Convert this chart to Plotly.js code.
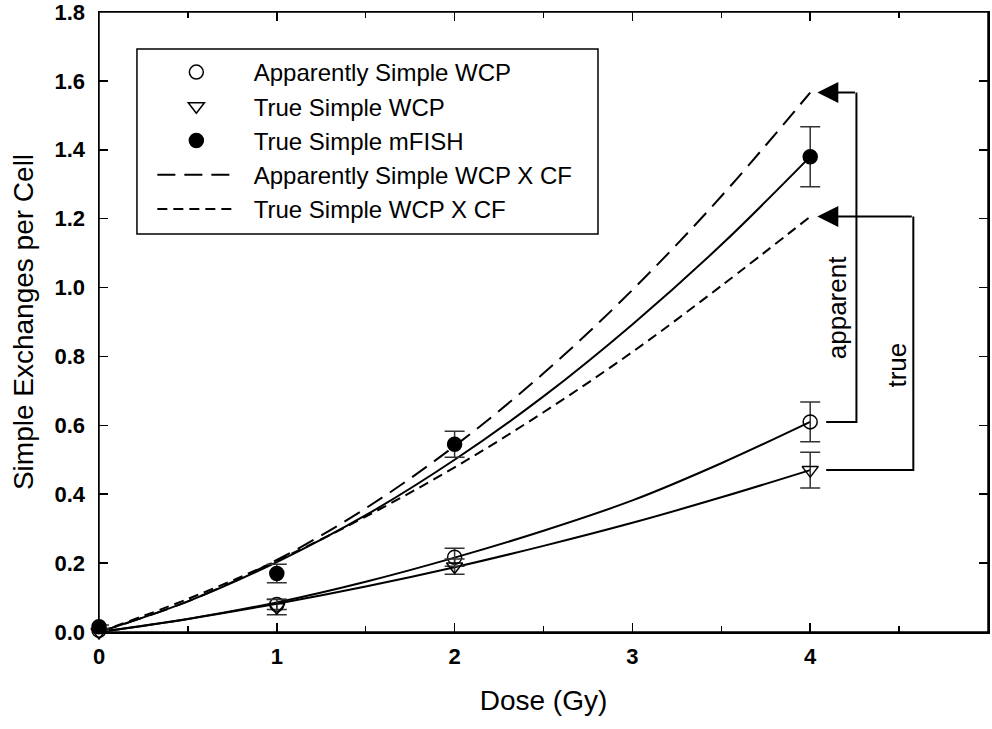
<!DOCTYPE html>
<html>
<head>
<meta charset="utf-8">
<script src="https://cdn.plot.ly/plotly-3.0.1.min.js"></script>
<style>
  body { margin: 0; background: #fff; }
  #dose_plot { width: 992px; height: 729px; }
</style>
</head>
<body>
<div id="dose_plot"></div>
<script>
/* measured points (Dose in Gy) */
var doses = [0, 1, 2, 4];
var apparentWcp = [0.005, 0.08, 0.217, 0.61];
var apparentWcpErr = [0.005, 0.015, 0.026, 0.058];
var trueWcp = [0.0, 0.072, 0.19, 0.47];
var trueWcpErr = [0.005, 0.022, 0.022, 0.052];
var trueMfish = [0.015, 0.17, 0.545, 1.38];
var trueMfishErr = [0.005, 0.027, 0.038, 0.087];

/* fitted curves */
var fitDoses = [0, 0.5, 1, 1.5, 2, 2.5, 3, 3.5, 4];
var fitApparentWcp = [0, 0.038, 0.086, 0.146, 0.216, 0.294, 0.382, 0.49, 0.61];
var fitTrueWcp = [0, 0.038, 0.082, 0.132, 0.188, 0.25, 0.317, 0.391, 0.47];
var fitTrueMfish = [0, 0.089, 0.203, 0.339, 0.50, 0.684, 0.893, 1.124, 1.38];
var cfApparentWcp = [0, 0.089, 0.209, 0.359, 0.54, 0.751, 0.993, 1.265, 1.566];
var cfTrueWcp = [0, 0.096, 0.207, 0.335, 0.478, 0.638, 0.813, 1.005, 1.206];

/* tick labels */
var xTicks = [0, 1, 2, 3, 4];
var xMinorTicks = [0.5, 1.5, 2.5, 3.5, 4.5];
var yTicks = [0, 0.2, 0.4, 0.6, 0.8, 1.0, 1.2, 1.4, 1.6, 1.8];

var legendNames = ['Apparently Simple WCP', 'True Simple WCP', 'True Simple mFISH',
                   'Apparently Simple WCP X CF', 'True Simple WCP X CF'];

var FONT = 'Liberation Sans, Arial, sans-serif';
var GAP = '\u00a0\u00a0';   // extra room between legend symbol and text

function fitLine(y, dash, name, rank){
    return { x: fitDoses, y: y, mode: 'lines', type: 'scatter', line: { color: '#000', width: 2, dash: dash, shape: 'spline' },
             name: name ? GAP + name : '', showlegend: !!name, legendrank: rank || 1000, hoverinfo: 'skip' };
}

function points(y, err, symbol, name, rank){
    return { x: doses, y: y, mode: 'markers', type: 'scatter', name: GAP + name, legendrank: rank, cliponaxis: false,
             marker: { symbol: symbol, size: 14, color: '#000', line: { color: '#000', width: 1.5 } },
             error_y: { type: 'data', array: err, visible: true, color: '#333', thickness: 1.5, width: 10 } };
}

function drawDosePlot(){
    var data = [
        fitLine(fitApparentWcp, 'solid'),
        fitLine(fitTrueWcp, 'solid'),
        fitLine(fitTrueMfish, 'solid'),
        fitLine(cfApparentWcp, '18px,9px', legendNames[3], 4),
        fitLine(cfTrueWcp, '10px,6px', legendNames[4], 5),
        points(apparentWcp, apparentWcpErr, 'circle-open', legendNames[0], 1),
        points(trueWcp, trueWcpErr, 'triangle-down-open', legendNames[1], 2),
        points(trueMfish, trueMfishErr, 'circle', legendNames[2], 3)
    ];

    // bracket arrows from the WCP points up to the CF curve ends
    var last = doses.length - 1, lastFit = fitDoses.length - 1;
    var startX = 4.09, apparentX = 4.26, trueX = 4.58, tipX = 4.04;
    var yApp = apparentWcp[last], yTrue = trueWcp[last];
    var yCfApp = cfApparentWcp[lastFit], yCfTrue = cfTrueWcp[lastFit];

    var shapes = [
        // plot frame
        { type: 'rect', xref: 'paper', yref: 'paper', x0: 0, x1: 1, y0: 0, y1: 1, line: { color: '#000', width: 1.5 } },
        // legend box
        { type: 'rect', xref: 'paper', yref: 'paper', x0: 0.0427, x1: 0.5613, y0: 0.642, y1: 0.9403, line: { color: '#000', width: 1.5 } },
        { type: 'path', xref: 'x', yref: 'y', line: { color: '#000', width: 2 },
          path: 'M ' + startX + ',' + yApp + ' L ' + apparentX + ',' + yApp + ' L ' + apparentX + ',' + yCfApp },
        { type: 'path', xref: 'x', yref: 'y', line: { color: '#000', width: 2 },
          path: 'M ' + startX + ',' + yTrue + ' L ' + trueX + ',' + yTrue + ' L ' + trueX + ',' + yCfTrue }
    ];

    var annotations = [
        { x: tipX, y: yCfApp, ax: apparentX, ay: yCfApp, axref: 'x', ayref: 'y', text: '', showarrow: true,
          arrowhead: 2, arrowsize: 2.1, arrowwidth: 2, arrowcolor: '#000' },
        { x: tipX, y: yCfTrue, ax: trueX, ay: yCfTrue, axref: 'x', ayref: 'y', text: '', showarrow: true,
          arrowhead: 2, arrowsize: 2.1, arrowwidth: 2, arrowcolor: '#000' },
        { x: 4.149, y: 0.942, text: 'apparent', textangle: -90, showarrow: false, font: { family: FONT, size: 26, color: '#000' } },
        { x: 4.489, y: 0.774, text: 'true', textangle: -90, showarrow: false, font: { family: FONT, size: 26, color: '#000' } }
    ];

    var tickStyle = { showgrid: false, zeroline: false, showline: true, linecolor: '#000', linewidth: 1.5, mirror: 'ticks',
                      ticks: 'inside', ticklen: 9, tickwidth: 1.5, tickcolor: '#000', ticklabeloverflow: 'allow',
                      tickfont: { family: FONT, size: 22, color: '#000', weight: 'bold' } };

    var layout = {
        width: 992, height: 729,
        margin: { l: 99, r: 4, t: 12, b: 97 },
        paper_bgcolor: '#fff', plot_bgcolor: '#fff',
        font: { family: FONT, color: '#000' },
        showlegend: true,
        legend: { x: 0.060, y: 0.9387, xanchor: 'left', yanchor: 'top', bgcolor: 'rgba(0,0,0,0)', borderwidth: 0,
                  font: { family: FONT, size: 24, color: '#000' }, itemwidth: 78, traceorder: 'normal' },
        xaxis: Object.assign({}, tickStyle, {
            range: [0, 5], tickvals: xTicks, ticklabelstandoff: 4,
            minor: { tickvals: xMinorTicks, ticks: 'inside', ticklen: 6, tickwidth: 1.5, tickcolor: '#000' },
            title: { text: 'Dose (Gy)', font: { family: FONT, size: 28, color: '#000' }, standoff: 22 }
        }),
        yaxis: Object.assign({}, tickStyle, {
            range: [0, 1.8], tickvals: yTicks, tickformat: '.1f', ticklabelstandoff: 8,
            title: { text: 'Simple Exchanges per Cell', font: { family: FONT, size: 28, color: '#000' }, standoff: 12 }
        }),
        shapes: shapes,
        annotations: annotations
    };

    Plotly.newPlot('dose_plot', data, layout, { displayModeBar: false, staticPlot: true });
}

drawDosePlot();
</script>
</body>
</html>
